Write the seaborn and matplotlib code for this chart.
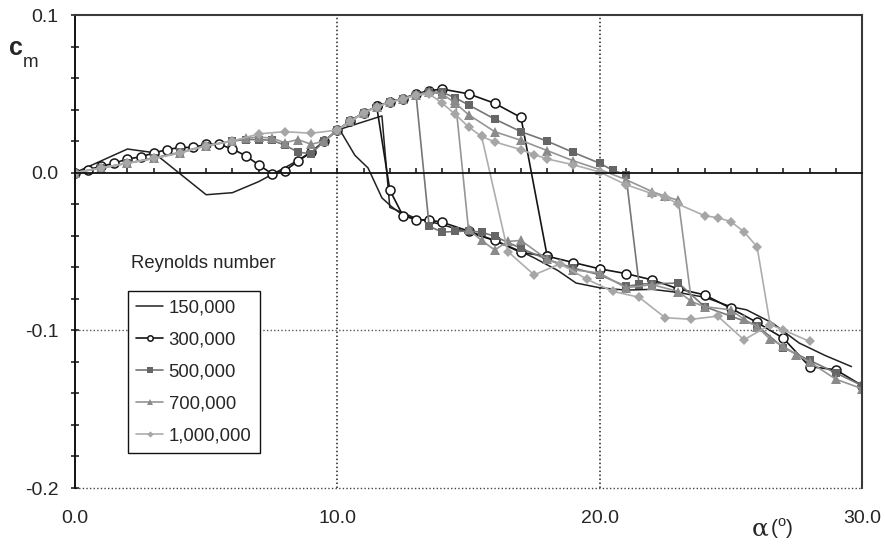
import matplotlib
matplotlib.use("Agg")
import matplotlib.pyplot as plt
import seaborn as sns
from matplotlib.ticker import MultipleLocator, FixedLocator

# ---- pitching-moment data, cm vs angle of attack (deg) ----
# each Reynolds number: increasing-alpha sweep ("up") and the return sweep ("dn")
re_labels = ["150,000", "300,000", "500,000", "700,000", "1,000,000"]

a150_up = [0, 2, 3, 5, 6, 7, 8.2, 9, 10, 11.7, 12, 13, 14, 15, 16, 17, 17.5, 18.4,
           19.1, 20, 21, 22, 23, 24, 25, 25.6, 26.6, 27.6, 28.6, 29.6]
c150_up = [0, 0.015, 0.0127, -0.014, -0.0127, -0.0057, 0.005, 0.013, 0.027, 0.036,
           -0.022, -0.029, -0.033, -0.038, -0.043, -0.050, -0.054, -0.062, -0.070,
           -0.073, -0.0745, -0.074, -0.076, -0.079, -0.085, -0.087, -0.0955, -0.108,
           -0.116, -0.123]
a150_dn = [13, 12.5, 12.07, 11.7, 11.17, 10.67, 10.1]
c150_dn = [-0.029, -0.027, -0.0216, -0.016, 0.003, 0.011, 0.027]

a300_up = [0, 0.5, 1, 1.5, 2, 2.5, 3, 3.5, 4, 4.5, 5, 5.5, 6, 6.5, 7, 7.5, 8, 8.5, 9,
           9.5, 10, 10.5, 11, 11.5, 12, 12.5, 13, 13.5, 14, 15, 16, 17, 18, 19, 20,
           21, 22, 23, 24, 25, 26, 27, 28, 29, 30]
c300_up = [0, 0.002, 0.004, 0.006, 0.0087, 0.010, 0.0125, 0.0146, 0.016, 0.016,
           0.018, 0.018, 0.015, 0.0108, 0.005, -0.0006, 0.0013, 0.0072, 0.013, 0.020,
           0.027, 0.033, 0.038, 0.042, 0.045, 0.047, 0.050, 0.052, 0.053, 0.050,
           0.044, 0.035, -0.053, -0.057, -0.061, -0.064, -0.068, -0.0737, -0.0775,
           -0.086, -0.095, -0.105, -0.123, -0.125, -0.135]
a300_dn = [18, 17, 16, 15, 14, 13.5, 13, 12.5, 12, 11.5]
c300_dn = [-0.053, -0.0506, -0.043, -0.037, -0.0315, -0.030, -0.0298, -0.0273,
           -0.011, 0.042]

a500_up = [0, 1, 2, 3, 4, 5, 6, 6.5, 7, 7.5, 8, 8.5, 9, 9.5, 10, 10.5, 11, 11.5, 12,
           12.5, 13, 13.5, 14, 14.5, 15, 16, 17, 18, 19, 20, 20.5, 21, 21.5, 22, 23,
           24, 25, 26, 27, 28, 29, 30]
c500_up = [0, 0.003, 0.006, 0.0093, 0.0129, 0.0172, 0.020, 0.021, 0.021, 0.0205,
           0.0175, 0.013, 0.012, 0.020, 0.027, 0.0326, 0.038, 0.0417, 0.0447, 0.0468,
           0.0495, 0.051, 0.051, 0.0474, 0.043, 0.034, 0.026, 0.020, 0.0128, 0.006,
           0.0015, -0.0013, -0.0705, -0.0705, -0.070, -0.085, -0.091, -0.097, -0.111,
           -0.119, -0.127, -0.135]
a500_dn = [21.5, 21, 20, 19, 18, 17, 16, 15.5, 15, 14.5, 14, 13.5, 13]
c500_dn = [-0.071, -0.072, -0.0648, -0.0605, -0.055, -0.048, -0.0404, -0.0377,
           -0.037, -0.0373, -0.0377, -0.034, 0.0495]

a700_up = [0, 1, 2, 3, 4, 5, 6, 6.5, 7, 7.5, 8, 8.5, 9, 9.5, 10, 10.5, 11, 11.5, 12,
           12.5, 13, 13.5, 14, 14.5, 15, 16, 17, 18, 19, 20, 21, 22, 22.5, 23, 23.5,
           24, 25, 25.5, 26, 26.5, 27, 27.5, 28, 29, 30]
c700_up = [0, 0.003, 0.006, 0.009, 0.0125, 0.017, 0.020, 0.022, 0.0225, 0.022,
           0.019, 0.021, 0.018, 0.020, 0.027, 0.0326, 0.038, 0.0417, 0.0447, 0.0468,
           0.0495, 0.051, 0.050, 0.044, 0.0368, 0.026, 0.0205, 0.014, 0.0075, 0.002,
           -0.0044, -0.012, -0.015, -0.0176, -0.0817, -0.085, -0.087, -0.093, -0.0976,
           -0.1057, -0.110, -0.1156, -0.120, -0.131, -0.137]
a700_dn = [23.5, 23, 22, 21, 20, 19, 18, 17, 16.5, 16, 15.5, 15, 14.5]
c700_dn = [-0.0817, -0.0754, -0.071, -0.073, -0.0637, -0.0616, -0.055, -0.043,
           -0.0436, -0.049, -0.043, -0.036, 0.046]

a1m_up = [0, 1, 2, 3, 4, 5, 6, 7, 8, 9, 10, 10.5, 11, 11.5, 12, 12.5, 13, 13.5, 14,
          14.5, 15, 15.5, 16, 17, 17.5, 18, 19, 20, 21, 22, 22.5, 23, 24, 24.5, 25,
          25.5, 26, 26.5, 27, 28]
c1m_up = [0, 0.003, 0.006, 0.009, 0.0125, 0.017, 0.020, 0.0246, 0.026, 0.025, 0.027,
          0.0326, 0.038, 0.0417, 0.0447, 0.0468, 0.049, 0.050, 0.044, 0.037, 0.029,
          0.023, 0.0195, 0.0146, 0.0115, 0.0087, 0.005, 0.0004, -0.0076, -0.0133,
          -0.0154, -0.020, -0.0273, -0.0286, -0.031, -0.0375, -0.047, -0.0965,
          -0.0997, -0.107]
a1m_dn = [26.5, 25.5, 24.5, 23.5, 22.5, 21.5, 20.5, 19.5, 18.5, 17.5, 16.5, 15.5]
c1m_dn = [-0.0965, -0.106, -0.091, -0.093, -0.092, -0.079, -0.0753, -0.0675,
          -0.0578, -0.0648, -0.050, 0.023]

y_tick_values = [-0.2, -0.1, 0.0, 0.1]
y_tick_labels = ["-0.2", "-0.1", "0.0", "0.1"]
x_tick_values = [0, 10, 20, 30]
x_tick_labels = ["0.0", "10.0", "20.0", "30.0"]

# ---- styling ----
sns.set_style("white")
plt.rcParams["font.family"] = ["Liberation Sans", "DejaVu Sans"]
plt.rcParams["mathtext.fontset"] = "custom"
plt.rcParams["mathtext.rm"] = "Liberation Sans"

styles = [
    dict(color="#222222", lw=1.1),
    dict(color="#151515", lw=1.2, marker="o", ms=6.5, mfc="white", mec="#151515", mew=1.1),
    dict(color="#767676", lw=1.2, marker="s", ms=6.3, mfc="#666666", mec="#666666", mew=0),
    dict(color="#959595", lw=1.2, marker="^", ms=7.2, mfc="#8a8a8a", mec="#8a8a8a", mew=0),
    dict(color="#adadad", lw=1.2, marker="D", ms=5.3, mfc="#a6a6a6", mec="#a6a6a6", mew=0),
]
sweeps = [
    (a150_up, c150_up, a150_dn, c150_dn),
    (a300_up, c300_up, a300_dn, c300_dn),
    (a500_up, c500_up, a500_dn, c500_dn),
    (a700_up, c700_up, a700_dn, c700_dn),
    (a1m_up, c1m_up, a1m_dn, c1m_dn),
]

fig = plt.figure(figsize=(8.85, 5.45), dpi=100)
ax = fig.add_axes([75 / 885, 1 - 488 / 545, 787 / 885, 473 / 545])

handles = []
for (au, cu, ad, cd), st in zip(sweeps, styles):
    sns.lineplot(x=au, y=cu, ax=ax, sort=False, estimator=None, **st)
    handles.append(ax.lines[-1])
    sns.lineplot(x=ad, y=cd, ax=ax, sort=False, estimator=None, **st)

ax.set_xlim(0, 30)
ax.set_ylim(-0.2, 0.1)

# reference lines
dot = (0, (1.0, 1.6))
for xv in (10, 20):
    ax.axvline(xv, color="#222222", lw=1.1, ls=dot, zorder=0.5)
ax.axhline(-0.1, color="#555555", lw=1.0, ls=dot, zorder=0.5)
ax.axhline(-0.2, color="#444444", lw=1.0, ls=dot, zorder=0.5, clip_on=False)

# frame: zero line carries the alpha ticks
ax.spines["bottom"].set_position(("data", 0))
ax.spines["bottom"].set_linewidth(1.3)
ax.spines["bottom"].set_color("#111111")
ax.spines["left"].set_linewidth(1.4)
ax.spines["left"].set_color("#111111")
for s in ("top", "right"):
    ax.spines[s].set_linewidth(1.5)
    ax.spines[s].set_color("#3a3a3a")

ax.xaxis.set_major_locator(MultipleLocator(1))
ax.tick_params(axis="x", which="major", direction="in", length=3.8, width=1.1,
               color="#111111", labelbottom=False, bottom=True)
ax.yaxis.set_major_locator(FixedLocator(y_tick_values))
ax.set_yticklabels(y_tick_labels)
ax.yaxis.set_minor_locator(MultipleLocator(0.02))
ax.tick_params(axis="y", which="both", direction="inout", length=6, width=1.1,
               color="#111111", left=True)
ax.tick_params(axis="y", which="major", labelsize=14, pad=9)

sec = ax.secondary_xaxis(0)
sec.set_xticks(x_tick_values, labels=x_tick_labels)
sec.tick_params(length=0, pad=16, labelsize=14)
for sp in sec.spines.values():
    sp.set_visible(False)

ax.set_xlabel("")
ax.set_ylabel("")

# axis titles
fig.text(9 / 885, 1 - 55 / 545, "c", fontsize=18, fontweight="bold", ha="left", va="baseline")
fig.text(23 / 885, 1 - 67 / 545, "m", fontsize=13.5, ha="left", va="baseline")
fig.text(752 / 885, 1 - 535 / 545, "α", fontsize=18, ha="left", va="baseline",
         family=["DejaVu Serif"])
fig.text(770 / 885, 1 - 535 / 545, "($^{\\mathrm{o}}$)", fontsize=15, ha="left",
         va="baseline")

# legend
fig.text(131 / 885, 1 - 264 / 545, "Reynolds number", fontsize=13.3, ha="left", va="center")
leg = ax.legend(handles, re_labels, loc="upper left",
                bbox_to_anchor=(128 / 885, 1 - 291 / 545), bbox_transform=fig.transFigure,
                frameon=True, fancybox=False, edgecolor="#111111", framealpha=1,
                fontsize=13.3, handlelength=1.45, handletextpad=0.3, labelspacing=0.82,
                borderpad=0.45, borderaxespad=0, markerscale=0.6)
leg.get_frame().set_linewidth(1.0)

fig.savefig("out.png", dpi=100)
